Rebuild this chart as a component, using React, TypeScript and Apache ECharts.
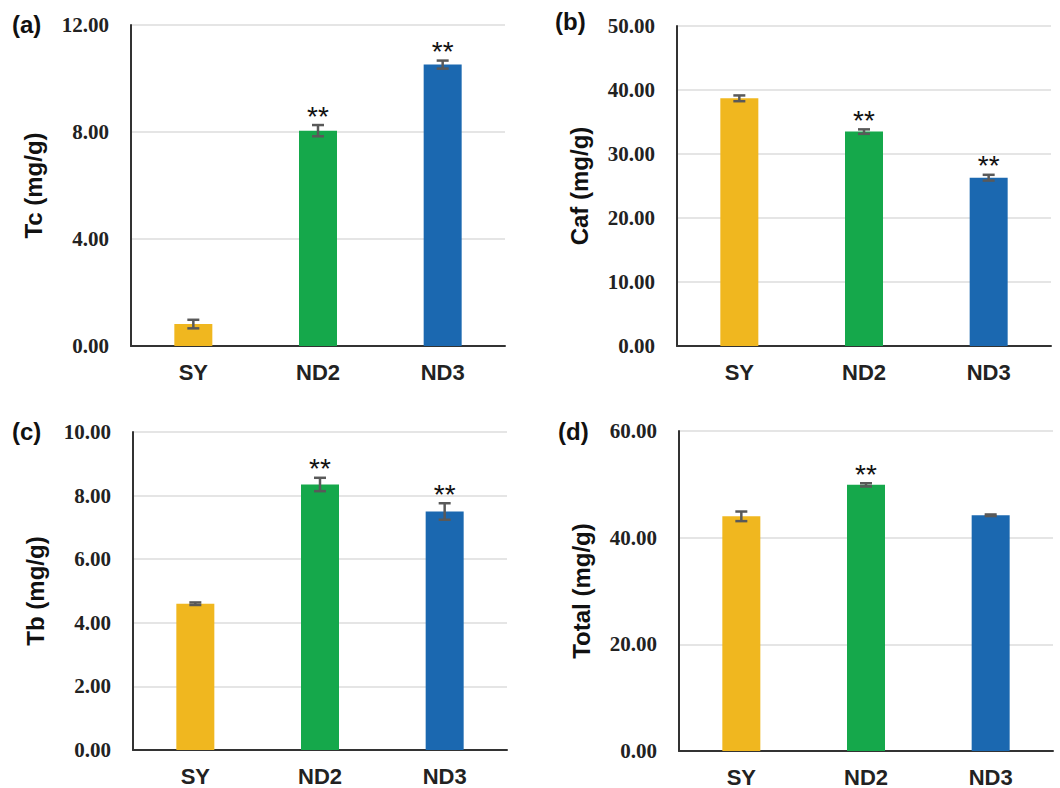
import React, { useEffect, useRef } from "react";
import * as echarts from "echarts";

const categories = ["SY", "ND2", "ND3"];
const barColors = ["#F0B71F", "#15A84B", "#1B68B0"];

const tcMean = [0.82, 8.05, 10.52];
const tcErr = [0.16, 0.21, 0.15];
const tcSig = ["", "**", "**"];

const cafMean = [38.7, 33.5, 26.3];
const cafErr = [0.45, 0.35, 0.45];
const cafSig = ["", "**", "**"];

const tbMean = [4.6, 8.35, 7.5];
const tbErr = [0.04, 0.21, 0.26];
const tbSig = ["", "**", "**"];

const totalMean = [44.0, 49.9, 44.2];
const totalErr = [0.9, 0.3, 0.15];
const totalSig = ["", "**", ""];

const yNames = ["Tc (mg/g)", "Caf (mg/g)", "Tb (mg/g)", "Total (mg/g)"];
const yMaxes = [12, 50, 10, 60];
const yIntervals = [4, 10, 2, 20];
const panelLabels = ["(a)", "(b)", "(c)", "(d)"];

const panels = [
  { mean: tcMean, err: tcErr, sig: tcSig },
  { mean: cafMean, err: cafErr, sig: cafSig },
  { mean: tbMean, err: tbErr, sig: tbSig },
  { mean: totalMean, err: totalErr, sig: totalSig },
];

const gridBoxes = [
  { left: 131, top: 25, width: 374, height: 321 },
  { left: 677, top: 26, width: 374, height: 320 },
  { left: 133, top: 432, width: 374, height: 318 },
  { left: 679, top: 431, width: 374, height: 321 },
];

const labelPos = [
  { x: 12, y: 25 },
  { x: 555, y: 22 },
  { x: 12, y: 432 },
  { x: 558, y: 432 },
];

export default function App() {
  const ref = useRef<HTMLDivElement>(null);
  useEffect(() => {
    if (!ref.current) return;
    const chart = echarts.init(ref.current, null, { renderer: "svg" });

    const grid = gridBoxes.map((g) => ({ ...g, containLabel: false }));
    const xAxis = panels.map((_, i) => ({
      type: "category",
      gridIndex: i,
      data: categories,
      axisLine: { show: true, lineStyle: { color: "#333", width: 2 } },
      axisTick: { show: false },
      axisLabel: {
        margin: 15,
        fontFamily: "Liberation Sans",
        fontWeight: "bold",
        fontSize: 22,
        color: "#222",
      },
    }));
    const yAxis = panels.map((_, i) => ({
      type: "value",
      gridIndex: i,
      min: 0,
      max: yMaxes[i],
      interval: yIntervals[i],
      name: yNames[i],
      nameLocation: "middle",
      nameGap: 86,
      nameTextStyle: {
        fontFamily: "Liberation Sans",
        fontWeight: "bold",
        fontSize: 24,
        color: "#111",
      },
      axisLine: { show: true, lineStyle: { color: "#333", width: 2 } },
      axisTick: { show: false },
      splitLine: { show: true, lineStyle: { color: "#dddddd", width: 1.5 } },
      axisLabel: {
        margin: 22,
        fontFamily: "Liberation Serif",
        fontWeight: "bold",
        fontSize: 21,
        color: "#222",
        formatter: (v: number) => v.toFixed(2),
      },
    }));

    const series: any[] = [];
    panels.forEach((p, i) => {
      series.push({
        type: "bar",
        xAxisIndex: i,
        yAxisIndex: i,
        barWidth: 38,
        data: p.mean.map((v, k) => ({ value: v, itemStyle: { color: barColors[k] } })),
      });
      series.push({
        type: "custom",
        xAxisIndex: i,
        yAxisIndex: i,
        z: 10,
        data: p.mean.map((v, k) => [k, v, p.err[k]]),
        renderItem: (params: any, api: any) => {
          const idx = api.value(0);
          const m = api.value(1);
          const e = api.value(2);
          const top = api.coord([idx, m + e]);
          const bot = api.coord([idx, m - e]);
          const hw = 6;
          const st = { stroke: "#595959", lineWidth: 2.5 };
          const children: any[] = [
            { type: "line", shape: { x1: top[0], y1: top[1], x2: bot[0], y2: bot[1] }, style: st },
            { type: "line", shape: { x1: top[0] - hw, y1: top[1], x2: top[0] + hw, y2: top[1] }, style: st },
            { type: "line", shape: { x1: bot[0] - hw, y1: bot[1], x2: bot[0] + hw, y2: bot[1] }, style: st },
          ];
          const sig = p.sig[idx];
          if (sig) {
            children.push({
              type: "text",
              x: top[0],
              y: top[1] + 5,
              style: {
                text: sig,
                fontFamily: "Liberation Sans",
                fontSize: 28,
                fontWeight: "normal",
                fill: "#111",
                align: "center",
                verticalAlign: "bottom",
              },
            });
          }
          return { type: "group", children };
        },
      });
    });

    const graphic = panelLabels.map((t, i) => ({
      type: "text",
      left: labelPos[i].x,
      top: labelPos[i].y - 13,
      style: {
        text: t,
        fontFamily: "Liberation Sans",
        fontWeight: "bold",
        fontSize: 24,
        fill: "#111",
      },
    }));

    chart.setOption({
      animation: false,
      backgroundColor: "#ffffff",
      grid,
      xAxis,
      yAxis,
      series,
      graphic,
    });
    return () => chart.dispose();
  }, []);
  return (
    <div
      ref={ref}
      style={{ position: "fixed", left: 0, top: 0, width: 1060, height: 788, background: "#fff" }}
    />
  );
}
